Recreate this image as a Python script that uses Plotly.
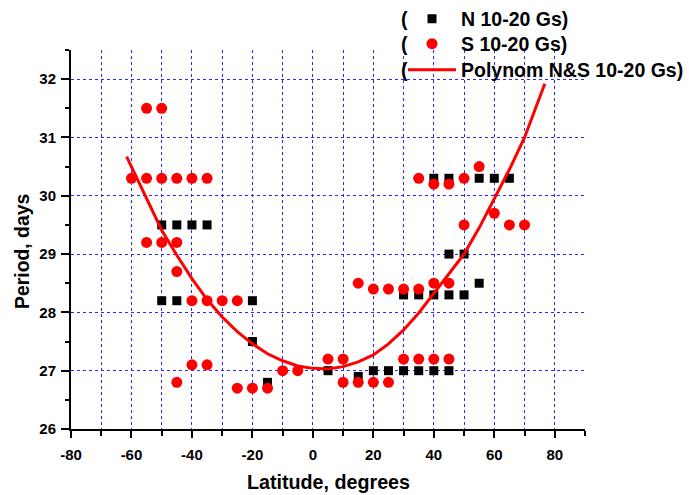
import plotly.graph_objects as go

# ---- data ----
n_lat = [-50, -45, -40, -35, -50, -45, -20, -20, -15,
         5, 20, 25, 30, 35, 40, 45, 15,
         30, 35, 40, 45, 50, 55, 45, 50,
         40, 45, 55, 60, 65]
n_period = [29.5, 29.5, 29.5, 29.5, 28.2, 28.2, 28.2, 27.5, 26.8,
            27.0, 27.0, 27.0, 27.0, 27.0, 27.0, 27.0, 26.9,
            28.3, 28.3, 28.3, 28.3, 28.3, 28.5, 29.0, 29.0,
            30.3, 30.3, 30.3, 30.3, 30.3]

s_lat = [-55, -50,
         -60, -55, -50, -45, -40, -35, 35, 50,
         40, 45, 55, 60, 50, 65, 70,
         -55, -50, -45, -45,
         -40, -35, -30, -25,
         15, 40, 45, 20, 25, 30, 35,
         5, 10, 30, 35, 40, 45,
         -40, -35, -10, -5,
         -45, 10, 15, 20, 25,
         -25, -20, -15]
s_period = [31.5, 31.5,
            30.3, 30.3, 30.3, 30.3, 30.3, 30.3, 30.3, 30.3,
            30.2, 30.2, 30.5, 29.7, 29.5, 29.5, 29.5,
            29.2, 29.2, 29.2, 28.7,
            28.2, 28.2, 28.2, 28.2,
            28.5, 28.5, 28.5, 28.4, 28.4, 28.4, 28.4,
            27.2, 27.2, 27.2, 27.2, 27.2, 27.2,
            27.1, 27.1, 27.0, 27.0,
            26.8, 26.8, 26.8, 26.8, 26.8,
            26.7, 26.7, 26.7]

fit_lat = [-61.6, -55, -50, -45, -40, -35, -30, -25, -20, -15, -10, -5, 0,
           5, 10, 15, 20, 25, 30, 35, 40, 45, 50, 55, 60, 65, 70, 76.7]
fit_period = [30.67, 29.95, 29.41, 28.98, 28.58, 28.22, 27.92, 27.67, 27.46,
              27.29, 27.17, 27.08, 27.04, 27.03, 27.07, 27.15, 27.27, 27.46,
              27.70, 27.99, 28.32, 28.65, 29.00, 29.45, 29.95, 30.45, 31.00,
              31.92]

x_tickvals = [-80, -60, -40, -20, 0, 20, 40, 60, 80]
x_ticktext = ["-80", "-60", "-40", "-20", "0", "20", "40", "60", "80"]
y_tickvals = [26, 27, 28, 29, 30, 31, 32]
y_ticktext = ["26", "27", "28", "29", "30", "31", "32"]

legend_names = ["N 10-20 Gs)", "S 10-20 Gs)", "Polynom N&S 10-20 Gs)"]

FONT = "Liberation Sans, Arial, sans-serif"
GRID = "rgb(40,40,255)"

fig = go.Figure()
fig.add_trace(go.Scatter(x=n_lat, y=n_period, mode="markers", name=legend_names[0],
                         legend="legend",
                         marker=dict(symbol="square", size=9, color="black")))
fig.add_trace(go.Scatter(x=s_lat, y=s_period, mode="markers", name=legend_names[1],
                         legend="legend2",
                         marker=dict(symbol="circle", size=11, color="red")))
fig.add_trace(go.Scatter(x=fit_lat, y=fit_period, mode="lines", name=legend_names[2],
                         legend="legend3",
                         line=dict(color="red", width=3)))

axis_common = dict(
    showline=True, linecolor="black", linewidth=2,
    ticks="outside", tickcolor="black", tickwidth=2,
    zeroline=False,
    tickfont=dict(family=FONT, size=15, color="black", weight="bold"),
    showgrid=True, gridcolor=GRID, gridwidth=1, griddash="dot",
)

fig.update_xaxes(
    **axis_common,
    range=[-80, 90], tickmode="array", tickvals=x_tickvals, ticktext=x_ticktext,
    ticklen=7, ticklabelstandoff=4,
    minor=dict(tickmode="linear", tick0=-80, dtick=10, ticks="outside", ticklen=5,
               tickwidth=2, tickcolor="black", showgrid=True, gridcolor=GRID,
               gridwidth=1, griddash="dot"),
)
fig.update_yaxes(
    **axis_common,
    range=[26, 32.5], tickmode="array", tickvals=y_tickvals, ticktext=y_ticktext,
    ticklen=8, ticklabelstandoff=2,
    minor=dict(tickmode="linear", tick0=26, dtick=0.5, ticks="outside", ticklen=4,
               tickwidth=2, tickcolor="black", showgrid=False),
)

LEG_FONT = dict(family=FONT, size=19.5, color="black", weight="bold")
rows = [19, 44, 70]
for yp in rows:
    fig.add_annotation(text="(", xref="paper", yref="paper",
                       x=(404 - 71) / 514, y=(429 - yp) / 379,
                       xanchor="center", yanchor="middle", showarrow=False,
                       font=LEG_FONT)

fig.add_annotation(text="Latitude, degrees", xref="paper", yref="paper",
                   x=0.5, y=0, yshift=-53, xanchor="center", yanchor="middle",
                   showarrow=False,
                   font=dict(family=FONT, size=19.7, color="black", weight="bold"))
fig.add_annotation(text="Period, days", xref="paper", yref="paper",
                   x=0, xshift=-49, y=(429 - 252) / 379, textangle=-90,
                   xanchor="center", yanchor="middle", showarrow=False,
                   font=dict(family=FONT, size=19.4, color="black", weight="bold"))

leg_x = (403 - 71) / 514


def leg(yp):
    return dict(x=leg_x, y=(429 - yp) / 379, xanchor="left", yanchor="middle",
                bgcolor="rgba(0,0,0,0)", borderwidth=0, font=LEG_FONT,
                itemwidth=48)


fig.update_layout(
    width=689, height=495,
    margin=dict(l=71, r=104, t=50, b=66, autoexpand=False),
    paper_bgcolor="white", plot_bgcolor="white",
    showlegend=True,
    legend=leg(rows[0]), legend2=leg(rows[1]), legend3=leg(rows[2]),
    font=dict(family=FONT),
)

fig.write_html("out.html")
